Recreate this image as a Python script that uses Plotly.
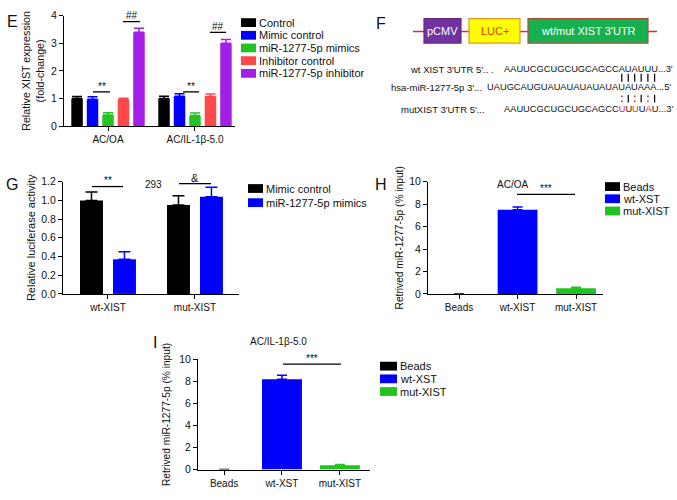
import plotly.graph_objects as go

W, H = 677, 500
FONT = "Liberation Sans, Arial, Helvetica, sans-serif"


def px(x):
    return x / W


def py(y):
    return 1 - y / H


# ---------------- data ----------------
# Panel E
e_groups = ["AC/OA", "AC/IL-1β-5.0"]
e_series = ["Control", "Mimic control", "miR-1277-5p mimics",
            "Inhibitor control", "miR-1277-5p inhibitor"]
e_colors = ["#000000", "#0000ff", "#22c322", "#ff4848", "#a31ee6"]
e_control = [1.00, 1.00]
e_mimic_control = [0.97, 1.08]
e_mimics = [0.40, 0.38]
e_inhibitor_control = [0.96, 1.07]
e_inhibitor = [3.40, 3.00]
e_control_err = [0.07, 0.08]
e_mimic_control_err = [0.09, 0.09]
e_mimics_err = [0.08, 0.09]
e_inhibitor_control_err = [0.05, 0.09]
e_inhibitor_err = [0.15, 0.14]
e_ticks = [0, 1, 2, 3, 4]

# Panel G
g_groups = ["wt-XIST", "mut-XIST"]
g_series = ["Mimic control", "miR-1277-5p mimics"]
g_colors = ["#000000", "#0000ff"]
g_mimic_control = [1.00, 0.95]
g_mimics = [0.37, 1.04]
g_mimic_control_err = [0.09, 0.10]
g_mimics_err = [0.08, 0.10]
g_ticks = [0.0, 0.2, 0.4, 0.6, 0.8, 1.0, 1.2]

# Panel H
h_cats = ["Beads", "wt-XIST", "mut-XIST"]
h_legend = ["Beads", "wt-XST", "mut-XIST"]
h_colors = ["#000000", "#0000ff", "#21c321"]
h_values = [0.0, 7.5, 0.5]
h_err = [0.0, 0.25, 0.10]

# Panel I
i_cats = ["Beads", "wt-XST", "mut-XIST"]
i_legend = ["Beads", "wt-XST", "mut-XIST"]
i_colors = ["#000000", "#0000ff", "#21c321"]
i_values = [0.0, 8.2, 0.4]
i_err = [0.0, 0.35, 0.07]
hi_ticks = [0, 2, 4, 6, 8, 10]

# Panel F sequences
wt_label = "wt XIST 3′UTR 5′.. ."
mir_label = "hsa-miR-1277-5p 3′..."
mut_label = "mutXIST 3′UTR 5′..."
wt_letters = "AAUUCGCUGCUGCAGCCAUAUUU"
mir_letters = "UAUGCAUGUAUAUAUAUAUAUAUAAA"
mut_letters = "AAUUCGCUGCUGCAGCCUUUUAU"
mut_changed = [17, 19, 21]          # 0-based indices of mutated bases
pair_marks = ["|", "|", "|", "|", "|", "|"]
mut_pair_marks = [":", "|", ":", "|", ":", "|"]
seed_start_wt = 17                  # first paired base in the XIST site (0-based)
seed_start_mir = 20                 # first paired base in the miRNA (0-based)

fig = go.Figure()


def add_bar(x, y, err, color, xa, ya, width, offset=None, cap=5):
    kw = {}
    if offset is not None:
        kw["offset"] = offset
    fig.add_trace(go.Bar(
        x=x, y=y, width=width, marker=dict(color=color, line=dict(width=0)),
        error_y=dict(type="data", array=err, arrayminus=[0] * len(err), symmetric=False,
                     color=color, thickness=1.5, width=cap),
        xaxis=xa, yaxis=ya, showlegend=False, **kw))


# E bars
e_vals = [e_control, e_mimic_control, e_mimics, e_inhibitor_control, e_inhibitor]
e_errs = [e_control_err, e_mimic_control_err, e_mimics_err, e_inhibitor_control_err, e_inhibitor_err]
e_bw, e_slot = 0.132, 0.178
e_off0 = -(4 * e_slot + e_bw) / 2
for k, (v, er, c) in enumerate(zip(e_vals, e_errs, e_colors)):
    add_bar(e_groups, v, er, c, "x", "y", [e_bw] * 2, [e_off0 + k * e_slot] * 2, cap=5)

# G bars
g_vals = [g_mimic_control, g_mimics]
g_errs = [g_mimic_control_err, g_mimics_err]
g_bw, g_slot = 0.264, 0.379
g_off0 = -(g_slot + g_bw) / 2
for k, (v, er, c) in enumerate(zip(g_vals, g_errs, g_colors)):
    add_bar(g_groups, v, er, c, "x2", "y2", [g_bw] * 2, [g_off0 + k * g_slot] * 2, cap=6)

# H bars
for cat, v, er, c in zip(h_cats, h_values, h_err, h_colors):
    add_bar([cat], [v], [er], c, "x3", "y3", [0.68], cap=5)

# I bars
for cat, v, er, c in zip(i_cats, i_values, i_err, i_colors):
    add_bar([cat], [v], [er], c, "x4", "y4", [0.69], cap=5)

xtick_font = dict(family=FONT, size=10, color="#111")
ytick_font = dict(family=FONT, size=10.5, color="#111")
common_x = dict(showline=True, linecolor="black", linewidth=1, ticks="outside", ticklen=4,
                tickcolor="black", showgrid=False, zeroline=False, tickfont=xtick_font,
                type="category", fixedrange=True)
common_y = dict(showline=True, linecolor="black", linewidth=1, ticks="outside", ticklen=4,
                tickcolor="black", showgrid=False, zeroline=False, tickfont=ytick_font,
                fixedrange=True)


def tfont(s):
    return dict(family=FONT, size=s, color="#111")


layout = dict(
    width=W, height=H, margin=dict(l=0, r=0, t=0, b=0),
    paper_bgcolor="white", plot_bgcolor="white", barmode="overlay",
    font=dict(family=FONT, color="#111"),
    xaxis=dict(common_x, domain=[px(64), px(235)], range=[-0.506, 1.46], anchor="y",
               categoryorder="array", categoryarray=e_groups),
    yaxis=dict(common_y, domain=[py(123), py(10)], range=[0, 4], tickvals=e_ticks, anchor="x",
               title=dict(text="Relative XIST expression<br>(fold-change)", font=tfont(10.7), standoff=4)),
    xaxis2=dict(common_x, domain=[px(63), px(239)], range=[-0.517, 1.506], anchor="y2",
                categoryorder="array", categoryarray=g_groups),
    yaxis2=dict(common_y, domain=[py(295), py(180)], range=[0, 1.2], tickvals=g_ticks,
                tickformat=".1f", anchor="x2",
                title=dict(text="Relative luciferase activity", font=tfont(11), standoff=3)),
    xaxis3=dict(common_x, domain=[px(428), px(603)], range=[-0.53, 2.46], anchor="y3",
                categoryorder="array", categoryarray=h_cats),
    yaxis3=dict(common_y, domain=[py(295), py(180)], range=[0, 10], tickvals=hi_ticks, anchor="x3",
                title=dict(text="Retrived miR-1277-5p (% input)", font=tfont(10.2), standoff=3)),
    xaxis4=dict(common_x, domain=[px(198), px(370)], range=[-0.45, 2.52], anchor="y4",
                categoryorder="array", categoryarray=i_cats),
    yaxis4=dict(common_y, domain=[py(475), py(362)], range=[0, 10], tickvals=hi_ticks, anchor="x4",
                title=dict(text="Retrived miR-1277-5p (% input)", font=tfont(10.2), standoff=6)),
)
fig.update_layout(**layout)

shapes = []
annotations = []


def text(x, y, s, size=10.5, xanchor="center", color="#111", yanchor="middle", pad=1):
    annotations.append(dict(x=px(x), y=py(y), xref="paper", yref="paper", text=s,
                            showarrow=False, xanchor=xanchor, yanchor=yanchor, borderpad=pad,
                            font=dict(family=FONT, size=size, color=color)))


def hline(x0, x1, y, color="black", w=1.5):
    shapes.append(dict(type="line", xref="paper", yref="paper", x0=px(x0), x1=px(x1),
                       y0=py(y), y1=py(y), line=dict(color=color, width=w)))


def vline(x, y0, y1, color="black", w=1.2):
    shapes.append(dict(type="line", xref="paper", yref="paper", x0=px(x), x1=px(x),
                       y0=py(y0), y1=py(y1), line=dict(color=color, width=w)))


def rect(x0, y0, x1, y1, fill, line, w=1):
    shapes.append(dict(type="rect", xref="paper", yref="paper", x0=px(x0), x1=px(x1),
                       y0=py(y1), y1=py(y0), fillcolor=fill, line=dict(color=line, width=w)))


def legend(names, colors, x, y0, dy, sw=15, sh=9):
    for k, (n, c) in enumerate(zip(names, colors)):
        yy = y0 + k * dy
        rect(x, yy - sh / 2, x + sw, yy + sh / 2, c, c, 0)
        text(x + sw + 2, yy, n, size=11, xanchor="left", pad=0)


# panel letters
for letter, x, y in [("E", 12, 16), ("F", 381, 18), ("G", 12, 183), ("H", 381, 183), ("I", 155, 345)]:
    text(x, y, letter, size=16)

# titles
text(153, 183, "293", size=10)
text(512, 183, "AC/OA", size=10)
text(278, 344, "AC/IL-1β-5.0", size=10)

# legends
legend(e_series, e_colors, 241, 17, 13)
legend(g_series, g_colors, 248, 187, 14.5)
legend(h_legend, h_colors, 605, 185, 12.5)
legend(i_legend, i_colors, 380, 369, 13, sw=17)

# significance marks
for (x0, x1, y, s) in [(93, 110, 88, "**"), (183, 199, 88, "**"),
                       (123, 140, 16, "##"), (210, 226, 27, "##"),
                       (92, 123, 185, "**"), (179, 211, 182, "&"),
                       (517, 575, 193, "***"), (283, 341, 367, "***")]:
    hline(x0, x1, y, w=1.3)
    text((x0 + x1) / 2, y - 6, s, size=10 if s != "&" else 11)

# ---------------- Panel F diagram ----------------
hline(413, 657, 26, color="#cc3344", w=1.5)
rect(424, 13, 461, 38, "#7032a2", "#6a2a7a", 1.2)
rect(469, 13, 520, 38, "#ffff00", "#e0962a", 1.2)
rect(528, 13, 648, 38, "#17b04f", "#b24a3a", 1.2)
text(442.5, 25.5, "pCMV", size=11, color="white")
text(494.5, 25.5, "LUC+", size=11, color="#e83a10")
text(588, 25.5, "wt/mut XIST 3′UTR", size=11, color="white")

SEQ = 9.3
ADV = {"A": 0.667, "U": 0.722, "C": 0.722, "G": 0.778}  # Arial/Liberation advance widths


def width_of(s):
    return sum(ADV[ch] for ch in s) * SEQ


RED = "#e8281c"
wt_x0 = 503
mir_x0 = wt_x0 + width_of(wt_letters[:seed_start_wt]) - width_of(mir_letters[:seed_start_mir])
mut_html = "".join(
    "<span style='color:%s'>%s</span>" % (RED, ch) if i in mut_changed else ch
    for i, ch in enumerate(mut_letters)) + "...3′"

text(495, 65, wt_label, size=9.5, xanchor="right", pad=0)
text(wt_x0, 65, wt_letters + "...3′", size=SEQ, xanchor="left", pad=0)
text(mir_x0 - 3, 83, mir_label, size=9.5, xanchor="right", pad=0)
text(mir_x0, 83, mir_letters + "...5′", size=SEQ, xanchor="left", pad=0)
text(486, 106, mut_label, size=9.5, xanchor="right", pad=0)
text(wt_x0, 106, mut_html, size=SEQ, xanchor="left", pad=0)

for k in range(len(pair_marks)):
    idx = seed_start_wt + k
    xc = wt_x0 + 1 + width_of(wt_letters[:idx]) + ADV[wt_letters[idx]] * SEQ / 2
    vline(xc, 69.5, 77.5)
    if mut_pair_marks[k] == "|":
        vline(xc, 91, 99)
    else:
        for yy in (92.5, 97.5):
            rect(xc - 0.8, yy - 0.8, xc + 0.8, yy + 0.8, RED, RED, 0)

fig.update_layout(shapes=shapes, annotations=annotations)
fig.write_html(
    "out.html",
    config={"displayModeBar": False, "staticPlot": True},
    post_script="document.body.style.margin='0';document.body.style.overflow='hidden';"
                "document.documentElement.style.overflow='hidden';")
